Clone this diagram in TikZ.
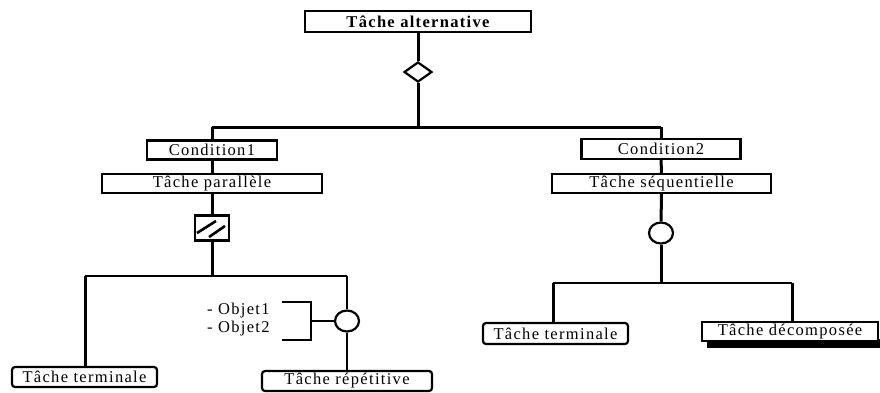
\documentclass[tikz,border=0pt]{standalone}
\usepackage{fontspec}
\setmainfont{Liberation Serif}
\newfontfamily\lbl{Liberation Serif}[LetterSpace=8]
\newfontfamily\lblb{Liberation Serif}[LetterSpace=8]
\usetikzlibrary{shapes.geometric}
\tikzset{
  box/.style={draw, line width=2.2pt, rectangle, inner sep=0pt,
    font=\lbl\fontsize{16.5}{18}\selectfont},
  rbox/.style={box, rounded corners=3pt},
  link/.style={line width=3pt},
  thin link/.style={line width=2.2pt},
  choice/.style={draw, line width=2.2pt, diamond, inner sep=0pt,
    minimum width=28pt, minimum height=20pt},
  seqsym/.style={draw, line width=2.2pt, ellipse, inner sep=0pt,
    minimum width=24pt, minimum height=21pt, fill=white},
  parsym/.style={draw, line width=2.2pt, rectangle, inner sep=0pt,
    minimum width=34pt, minimum height=25pt},
  note/.style={inner sep=0pt, anchor=base west,
    font=\lbl\fontsize{16.5}{18}\selectfont}
}
\begin{document}
\begin{tikzpicture}[x=1pt, y=-1pt]
\useasboundingbox (0,0) rectangle (880,392);

% task boxes
\node[box, minimum width=226pt, minimum height=21pt,
      font=\lblb\bfseries\fontsize{16.5}{18}\selectfont] (alt) at (418,21.5) {Tâche alternative};
\node[box, minimum width=130pt, minimum height=19pt] (cond1) at (212,150) {Condition1};
\node[box, minimum width=220pt, minimum height=19pt] (par) at (212,183.5) {Tâche parallèle};
\node[box, minimum width=159pt, minimum height=20pt] (cond2) at (661,149) {Condition2};
\node[box, minimum width=219pt, minimum height=19pt] (seq) at (661.5,183.5) {Tâche séquentielle};
\node[rbox, minimum width=145pt, minimum height=20pt] (term1) at (84.5,377) {Tâche terminale};
\node[rbox, minimum width=170pt, minimum height=20pt] (rep) at (347,381) {Tâche répétitive};
\node[rbox, minimum width=145pt, minimum height=21pt] (term2) at (555.5,333.5) {Tâche terminale};
% shadow under the decomposed task
\fill (707,339) rectangle (880,348);
\node[box, fill=white, minimum width=176pt, minimum height=19pt] (decomp) at (790,331.5) {Tâche décomposée};

% operator symbols
\node[choice] (dia) at (418,72) {};
\node[parsym] (psym) at (212,228) {};
\draw[line width=2.6pt] (197,233) -- (216,221);
\draw[line width=2.6pt] (209,237) -- (225,226);
\node[seqsym] (scirc) at (661,233) {};
\node[seqsym] (rcirc) at (347,321) {};

% junction points
\coordinate (top) at (418,127);
\coordinate (b1) at (212,127);
\coordinate (b2) at (661,127);
\coordinate (p1) at (212,276);
\coordinate (pl) at (85,276);
\coordinate (pr) at (347,276);
\coordinate (s1) at (661,283);
\coordinate (sl) at (553,283);
\coordinate (sr) at (792,283);

% connectors
\draw[link] (alt) -- (dia);
\draw[link] (dia) -- (top);
\draw[link] (b1) -- (b2);
\draw[link] (b1) -- (cond1);
\draw[link] (cond1) -- (par);
\draw[link] (par) -- (psym);
\draw[link] (psym) -- (p1);
\draw[thin link] (pl) -- (pr);
\draw[link] (pl) -- (pl |- term1.north);
\draw[thin link] (pr) -- (rcirc);
\draw[thin link] (rcirc) -- (rep);
\draw[link] (b2) -- (cond2);
\draw[link] (cond2) -- (seq);
\draw[link] (seq) -- (scirc);
\draw[link] (scirc) -- (s1);
\draw[thin link] (sl) -- (sr);
\draw[link] (sl) -- (sl |- term2.north);
\draw[link] (sr) -- (sr |- decomp.north);

% objects of the repeated task
\node[note] (o1) at (207,314) {- Objet1};
\node[note] (o2) at (207,332) {- Objet2};
\coordinate (bt) at (282,302);
\coordinate (bb) at (282,340);
\coordinate (bm) at (311,321);
\draw[line width=2pt] (bt) -| (bm |- bb) -- (bb);
\draw[line width=2pt] (bm) -- (rcirc);
\end{tikzpicture}
\end{document}
